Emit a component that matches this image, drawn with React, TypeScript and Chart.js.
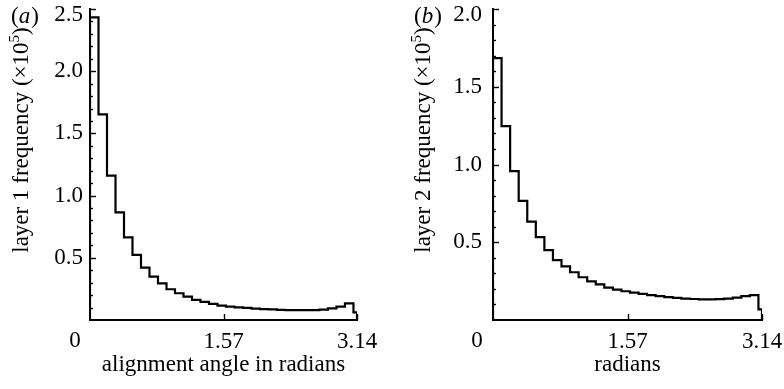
import React, { useEffect, useRef } from 'react';
import { Chart, registerables } from 'chart.js';

Chart.register(...registerables);

const SERIF = "'Liberation Serif', 'Times New Roman', serif";
const FS = 23;

// Histogram bin start edges (radians), bin width 0.1; the last bin ends at pi
const binStarts = [
  0.0, 0.1, 0.2, 0.3, 0.4, 0.5, 0.6, 0.7, 0.8, 0.9,
  1.0, 1.1, 1.2, 1.3, 1.4, 1.5, 1.6, 1.7, 1.8, 1.9,
  2.0, 2.1, 2.2, 2.3, 2.4, 2.5, 2.6, 2.7, 2.8, 2.9,
  3.0, 3.1,
];
const xEnd = 3.14159;

// Frequencies (x10^5)
const layer1Freq = [
  2.433, 1.653, 1.161, 0.865, 0.664, 0.523, 0.421, 0.349, 0.295, 0.247,
  0.215, 0.188, 0.162, 0.145, 0.129, 0.116, 0.108, 0.102, 0.097, 0.092,
  0.088, 0.085, 0.082, 0.080, 0.079, 0.079, 0.080, 0.083, 0.093, 0.108,
  0.134, 0.062,
];
const layer2Freq = [
  1.684, 1.247, 0.957, 0.766, 0.632, 0.533, 0.450, 0.385, 0.345, 0.307,
  0.275, 0.249, 0.229, 0.208, 0.195, 0.185, 0.176, 0.168, 0.160, 0.153,
  0.147, 0.142, 0.138, 0.135, 0.133, 0.133, 0.134, 0.137, 0.144, 0.153,
  0.160, 0.068,
];

const xTickValues = [0, 1.5708, 3.14159];
const xTickLabels = ['', '1.57', '3.14'];
const yTicksA = [0.5, 1.0, 1.5, 2.0, 2.5];
const yTicksB = [0.5, 1.0, 1.5, 2.0];

type Spec = {
  values: number[];
  yMax: number;
  yTicks: number[];
  panel: string;
  yTitle: string;
  xTitle: string;
  padding: { left: number; right: number; top: number; bottom: number };
  yAxisWidth: number;
  yLabelPad: number;
  titleX: number;
  panelX: number;
  zeroX: number;
};

function decorPlugin(spec: Spec) {
  return {
    id: 'decor',
    afterDraw(chart: any) {
      const ctx: CanvasRenderingContext2D = chart.ctx;
      const xs = chart.scales.x;
      const ys = chart.scales.y;
      const area = chart.chartArea;
      ctx.save();
      ctx.strokeStyle = '#000';
      ctx.lineWidth = 1.4;
      // y ticks (inside)
      const n = Math.round(spec.yMax * 10);
      for (let i = 1; i <= n; i++) {
        const py = Math.round(ys.getPixelForValue(i / 10)) + 0.5;
        const len = i % 5 === 0 ? 6 : 3;
        ctx.beginPath();
        ctx.moveTo(area.left, py);
        ctx.lineTo(area.left + len, py);
        ctx.stroke();
      }
      // x ticks (inside)
      for (const v of xTickValues.slice(1)) {
        const px = Math.round(xs.getPixelForValue(v)) + 0.5;
        ctx.beginPath();
        ctx.moveTo(px, area.bottom);
        ctx.lineTo(px, area.bottom - 6);
        ctx.stroke();
      }
      ctx.fillStyle = '#000';
      // origin label "0"
      ctx.font = `${FS}px ${SERIF}`;
      ctx.textAlign = 'center';
      ctx.textBaseline = 'alphabetic';
      ctx.fillText('0', spec.zeroX, area.bottom + 27);
      // panel label
      ctx.textAlign = 'left';
      let x = spec.panelX;
      const by = 23;
      ctx.font = `${FS}px ${SERIF}`;
      ctx.fillText('(', x, by);
      x += ctx.measureText('(').width;
      ctx.font = `italic ${FS}px ${SERIF}`;
      ctx.fillText(spec.panel, x, by);
      x += ctx.measureText(spec.panel).width + 1;
      ctx.font = `${FS}px ${SERIF}`;
      ctx.fillText(')', x, by);
      // y title with superscript
      const main = spec.yTitle + ' (\u00d710';
      const sup = '5';
      const close = ')';
      ctx.translate(spec.titleX, 140);
      ctx.rotate(-Math.PI / 2);
      ctx.font = `${FS}px ${SERIF}`;
      const w1 = ctx.measureText(main).width;
      const w3 = ctx.measureText(close).width;
      ctx.font = `15px ${SERIF}`;
      const w2 = ctx.measureText(sup).width;
      let tx = -(w1 + w2 + w3) / 2;
      ctx.font = `${FS}px ${SERIF}`;
      ctx.fillText(main, tx, 0);
      tx += w1;
      ctx.font = `15px ${SERIF}`;
      ctx.fillText(sup, tx, -9);
      tx += w2;
      ctx.font = `${FS}px ${SERIF}`;
      ctx.fillText(close, tx, 0);
      ctx.restore();
    },
  };
}

function makeChart(canvas: HTMLCanvasElement, spec: Spec) {
  const last = spec.values.length - 1;
  const data = [
    { x: 0, y: 0 },
    ...binStarts.map((b, i) => ({ x: b, y: spec.values[i] })),
    { x: xEnd, y: spec.values[last] },
    { x: xEnd, y: 0 },
  ];
  const font = { family: SERIF, size: FS, lineHeight: 0.55 };
  return new Chart(canvas, {
    type: 'line',
    data: {
      datasets: [
        {
          data,
          stepped: true,
          borderColor: '#000',
          borderWidth: 2.2,
          pointRadius: 0,
          fill: false,
        } as any,
      ],
    },
    options: {
      animation: false,
      responsive: false,
      devicePixelRatio: 1,
      layout: { padding: spec.padding },
      plugins: { legend: { display: false }, tooltip: { enabled: false } },
      scales: {
        x: {
          type: 'linear',
          min: 0,
          max: xEnd,
          grid: { display: false, drawTicks: false },
          border: { display: true, color: '#000', width: 2 },
          afterBuildTicks: (s: any) => {
            s.ticks = xTickValues.map((v) => ({ value: v }));
          },
          afterFit: (s: any) => {
            s.height = 69;
            s.paddingLeft = 0;
            s.paddingRight = 0;
          },
          ticks: {
            callback: (_v: any, i: number) => xTickLabels[i],
            font: { family: SERIF, size: FS },
            color: '#000',
            padding: 8,
            maxRotation: 0,
            autoSkip: false,
          },
          title: {
            display: true,
            text: spec.xTitle,
            color: '#000',
            font: { family: SERIF, size: FS },
            padding: { top: 0, bottom: 10 },
          },
        },
        y: {
          type: 'linear',
          min: 0,
          max: spec.yMax,
          grid: { display: false, drawTicks: false },
          border: { display: true, color: '#000', width: 2 },
          afterBuildTicks: (s: any) => {
            s.ticks = spec.yTicks.map((v) => ({ value: v }));
          },
          afterFit: (s: any) => {
            s.width = spec.yAxisWidth;
            s.paddingTop = 0;
            s.paddingBottom = 0;
          },
          ticks: {
            callback: (v: any) =>
              Math.abs(v - spec.yMax) < 1e-9 ? ['', Number(v).toFixed(1)] : Number(v).toFixed(1),
            font,
            color: '#000',
            padding: spec.yLabelPad,
            autoSkip: false,
          },
        },
      },
    } as any,
    plugins: [decorPlugin(spec)],
  });
}

const specA: Spec = {
  values: layer1Freq,
  yMax: 2.5,
  yTicks: yTicksA,
  panel: 'a',
  yTitle: 'layer 1 frequency',
  xTitle: 'alignment angle in radians',
  padding: { left: 0, right: 35, top: 9, bottom: 0 },
  yAxisWidth: 90,
  yLabelPad: 7,
  titleX: 28,
  panelX: 11,
  zeroX: 75,
};

const specB: Spec = {
  values: layer2Freq,
  yMax: 2.0,
  yTicks: yTicksB,
  panel: 'b',
  yTitle: 'layer 2 frequency',
  xTitle: 'radians',
  padding: { left: 0, right: 22, top: 9, bottom: 0 },
  yAxisWidth: 101,
  yLabelPad: 11,
  titleX: 38,
  panelX: 22,
  zeroX: 85,
};

function Panel({ spec }: { spec: Spec }) {
  const ref = useRef<HTMLCanvasElement | null>(null);
  useEffect(() => {
    if (!ref.current) return;
    const chart = makeChart(ref.current, spec);
    return () => chart.destroy();
  }, [spec]);
  return <canvas ref={ref} width={392} height={389} style={{ display: 'block', width: 392, height: 389 }} />;
}

export default function App() {
  return (
    <div
      style={{
        position: 'absolute',
        left: 0,
        top: 0,
        width: 784,
        height: 389,
        display: 'flex',
        background: '#fff',
      }}
    >
      <Panel spec={specA} />
      <Panel spec={specB} />
    </div>
  );
}
